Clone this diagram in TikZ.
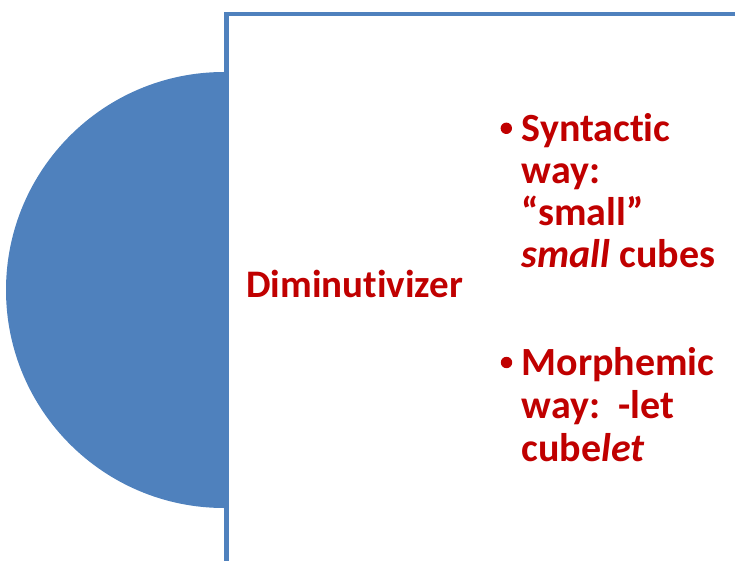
\documentclass[tikz,border=0pt]{standalone}
\usepackage{fontspec}
\setmainfont{Carlito}[Ligatures=NoCommon]
\definecolor{accblue}{HTML}{4F81BD}
\definecolor{txtred}{HTML}{C00000}
\begin{document}
\begin{tikzpicture}[x=1pt,y=1pt,
  bigtext/.style={text=txtred,font=\fontsize{40}{42}\selectfont\bfseries,inner sep=0pt,anchor=base west},
  labeltext/.style={text=txtred,font=\fontsize{39}{42}\selectfont\bfseries,inner sep=0pt,anchor=base west},
  bul/.style={circle,fill=txtred,inner sep=0pt,minimum size=11.4pt}]
\useasboundingbox (0,0) rectangle (735,560);
\begin{scope}
\clip (0,0) rectangle (735,560);
\fill[accblue] (224,488) arc (90:270:218) -- cycle;
\draw[accblue,line width=4.5pt,fill=white] (226.5,546.2) rectangle (800,-40);
\end{scope}
\node[labeltext] (dim) at (246,262.7) {Diminutivizer};
\node[bul] (b1) at (506.3,431.7) {};
\node[bigtext] (l1) at (521.5,418.3) {Syntactic};
\node[bigtext] (l2) at (521.5,376.1) {way:};
\node[bigtext] (l3) at (521.5,334) {“small”};
\node[bigtext] (l4) at (521.5,292) {\itshape small\upshape{} cubes};
\node[bul] (b2) at (506.5,197.5) {};
\node[bigtext] (m1) at (521.5,185) {Morphemic};
\node[bigtext] (m2) at (521.5,142) {way:\ \ -let};
\node[bigtext] (m3) at (521.5,98.5) {cube\itshape let};
\end{tikzpicture}
\end{document}
